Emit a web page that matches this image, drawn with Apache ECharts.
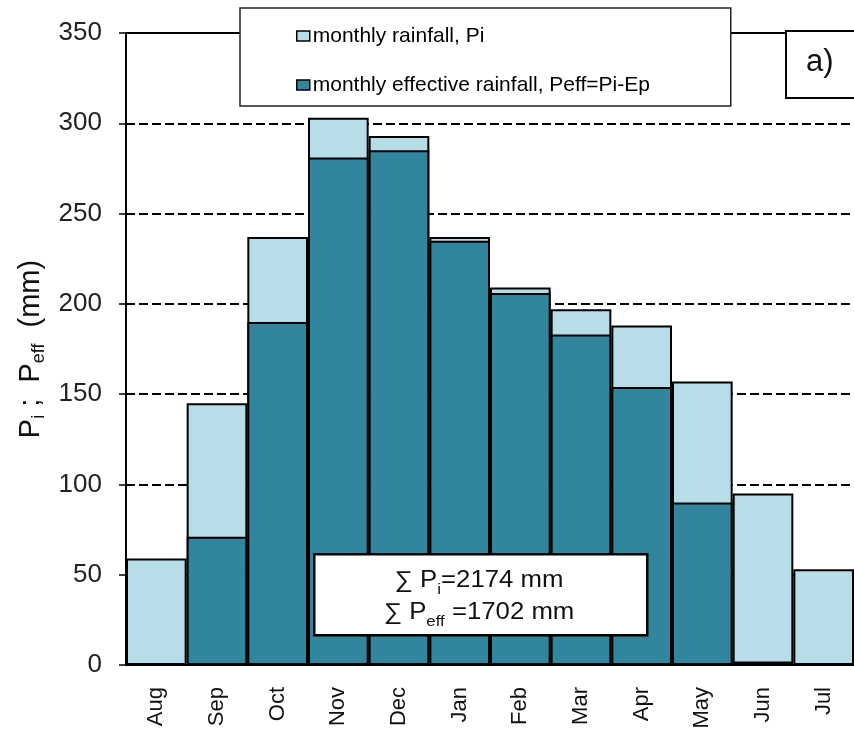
<!DOCTYPE html>
<html>
<head>
<meta charset="utf-8">
<script src="https://cdn.jsdelivr.net/npm/echarts@6/dist/echarts.min.js"></script>
<style>
  html, body { margin: 0; padding: 0; background: #fff; }
  #chart { width: 854px; height: 742px; }
</style>
</head>
<body>
<div id="chart"></div>
<script>
// months of the hydrological year, Aug -> Jul
const months = ['Aug', 'Sep', 'Oct', 'Nov', 'Dec', 'Jan', 'Feb', 'Mar', 'Apr', 'May', 'Jun', 'Jul'];
// monthly rainfall Pi (mm)
const rainfall = [59, 145, 237, 303, 293, 237, 209, 197, 188, 157, 95, 53];
// effective rainfall Peff = Pi - Ep (mm)
const effRainfall = [0, 71, 190, 281, 285, 235, 206, 183, 154, 90, 2, 0];
const yTicks = { min: 0, max: 350, interval: 50 };

const lightBlue = '#b7dee8';
const tealBlue = '#31859c';
const font = 'Liberation Sans, Arial, sans-serif';

const chart = echarts.init(document.getElementById('chart'));

chart.setOption({
  animation: false,
  textStyle: { fontFamily: font },
  grid: { left: 126, right: -4, top: 33, bottom: 77 },
  legend: {
    left: 240,
    top: 8,
    orient: 'vertical',
    icon: 'rect',
    backgroundColor: '#fff',
    borderColor: '#222',
    borderWidth: 1.5,
    padding: [17, 44, 10, 56],
    itemGap: 27,
    itemWidth: 13,
    itemHeight: 10,
    itemStyle: { borderColor: '#000', borderWidth: 1.5 },
    textStyle: { fontSize: 21, color: '#000', width: 374, lineHeight: 22, padding: [0, 0, 0, -2] },
    data: ['monthly rainfall, Pi', 'monthly effective rainfall, Peff=Pi-Ep']
  },
  xAxis: [{
    type: 'category',
    data: months,
    axisLine: { lineStyle: { color: '#000', width: 2 } },
    axisTick: { length: 8, lineStyle: { color: '#000', width: 1.5 } },
    axisLabel: { rotate: 90, fontSize: 22, color: '#111', margin: 22 }
  }, {
    type: 'category',
    position: 'top',
    data: months,
    axisLine: { lineStyle: { color: '#000', width: 2 } },
    axisTick: { show: false },
    axisLabel: { show: false }
  }],
  yAxis: {
    type: 'value',
    min: yTicks.min,
    max: yTicks.max,
    interval: yTicks.interval,
    name: '{p|P}{s|i}{p| ;  P}{s|eff}{p|  (mm)}',
    nameLocation: 'middle',
    nameGap: 78,
    nameRotate: 90,
    nameTextStyle: {
      rich: {
        p: { fontSize: 29, color: '#111', lineHeight: 34, verticalAlign: 'middle', fontFamily: font },
        s: { fontSize: 18, color: '#111', lineHeight: 12, verticalAlign: 'bottom', fontFamily: font }
      }
    },
    axisLine: { show: true, lineStyle: { color: '#000', width: 2 } },
    axisTick: { show: true, length: 7, lineStyle: { color: '#000', width: 1.5 } },
    axisLabel: { fontSize: 26, color: '#222', margin: 24 },
    splitLine: { lineStyle: { color: '#000', width: 2, type: [9, 4] } }
  },
  series: [{
    name: 'monthly rainfall, Pi',
    type: 'bar',
    data: rainfall,
    barGap: '-100%',
    barCategoryGap: 0,
    itemStyle: { color: lightBlue, borderColor: '#000', borderWidth: 2 }
  }, {
    name: 'monthly effective rainfall, Peff=Pi-Ep',
    type: 'bar',
    data: effRainfall,
    barGap: '-100%',
    barCategoryGap: 0,
    itemStyle: { color: tealBlue, borderColor: '#000', borderWidth: 2 }
  }],
  graphic: [{
    type: 'rect',
    left: 785,
    top: 30,
    z: 100,
    shape: { width: 90, height: 67 },
    style: { fill: '#fff', stroke: '#000', lineWidth: 2 }
  }, {
    type: 'text',
    left: 806,
    top: 47,
    z: 101,
    style: { text: 'a)', fontSize: 31, fontFamily: font, fill: '#111' }
  }, {
    type: 'rect',
    left: 313,
    top: 553,
    z: 100,
    shape: { width: 333, height: 81 },
    style: { fill: '#fff', stroke: '#000', lineWidth: 2.5 }
  }, {
    type: 'text',
    x: 479,
    y: 597,
    scaleX: 1.12,
    z: 101,
    style: {
      x: 0,
      y: 0,
      text: '{n|∑ P}{s|i}{n|=2174 mm}\n{n|∑ P}{s|eff}{n| =1702 mm}',
      align: 'center',
      verticalAlign: 'middle',
      rich: {
        n: { fontSize: 23, lineHeight: 32, fill: '#111', verticalAlign: 'middle', fontFamily: font },
        s: { fontSize: 15, lineHeight: 10, fill: '#111', verticalAlign: 'bottom', fontFamily: font }
      }
    }
  }]
});

window.addEventListener('resize', () => chart.resize());
</script>
</body>
</html>
